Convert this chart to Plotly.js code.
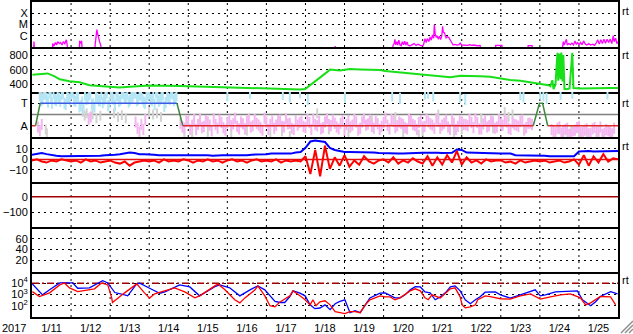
<!DOCTYPE html>
<html><head><meta charset="utf-8">
<script src="https://cdn.plot.ly/plotly-3.0.1.min.js"></script>
<style>html,body{margin:0;padding:0;background:#fff;}#chart{width:633px;height:334px;}</style>
</head><body><div id="chart"></div>
<script>
// ---------- axis labels ----------
const dayTickVals = [11.5,12.5,13.5,14.5,15.5,16.5,17.5,18.5,19.5,20.5,21.5,22.5,23.5,24.5,25.5];
const dayTickText = ['1/11','1/12','1/13','1/14','1/15','1/16','1/17','1/18','1/19','1/20','1/21','1/22','1/23','1/24','1/25'];
const dayGrid = [12,13,14,15,16,17,18,19,20,21,22,23,24,25];
const yearLabel = '2017';

// ---------- panel 1 : X-ray flux ----------
const xrsDay = [11.04,11.05,11.07, 11.52,11.53,11.56,11.60,11.63,11.66,11.70,11.73,11.77,11.80,11.84,11.88,11.90,11.92,
 12.21,12.22,12.25,12.27,12.29, 12.60,12.62,12.64,12.66,12.68,12.70,12.73,12.76,12.78,
 18.75,18.76,18.77,
 20.22,20.24,20.27,20.29,20.31,20.34,20.36,20.39,20.42,20.45,20.48,20.51,20.54,20.57,20.60,20.63,20.68,20.73,20.78,20.83,20.88,20.94,20.98,21.02,21.06,21.09,21.12,21.16,21.19,21.22,21.25,21.28,21.30,21.32,21.35,21.37,21.40,21.43,21.46,21.49,21.51,21.53,21.56,21.58,21.60,21.63,21.67,21.71,21.74,21.78,21.83,21.88,21.93,21.96,22.00,22.05,22.10,22.15,22.20,22.25,22.30,22.35,22.40,22.47,22.49,
 22.86,22.87,23.03,23.04, 23.69,23.70,23.80,23.81,
 24.56,24.58,24.60,24.62,24.65,24.68,24.70,24.74,24.78,24.82,24.86,24.90,24.93,24.97,25.00,25.04,25.08,25.12,25.16,25.20,25.25,25.30,25.35,25.40,25.45,25.48,25.52,25.56,25.60,25.64,25.68,25.72,25.76,25.80,25.84,25.88,25.90,25.94,25.97,26.00];
const xrsFlux = [3e-8,3e-7,3e-8, 3e-8,2e-7,1.2e-7,2.5e-7,1.5e-7,3e-7,2e-7,2.5e-7,1.5e-7,3e-7,2e-7,4.3e-7,1.5e-7,3e-8,
 3e-8,3.5e-7,2e-7,3.5e-7,3e-8, 3e-8,2e-7,6.5e-7,3.5e-6,1.5e-6,6.5e-7,3e-7,1.4e-7,3e-8,
 3e-8,1.2e-7,3e-8,
 3e-8,1.3e-7,2e-7,4.9e-7,1.6e-7,3e-7,1.5e-7,4e-7,1.5e-7,1.3e-7,3e-7,1.6e-7,3.2e-7,1.5e-7,2.8e-7,1.4e-7,1.3e-7,1.5e-7,2e-7,1.4e-7,1.8e-7,1.4e-7,1.3e-7,1.5e-7,5.5e-7,2.5e-7,5.5e-7,3e-7,8e-7,4e-7,1.2e-6,6e-7,1e-5,1.5e-6,7e-7,1e-6,5e-7,9e-7,4.5e-7,1e-6,7e-6,2e-6,1.8e-6,1e-6,6.5e-7,8e-7,7e-7,4e-7,2.2e-7,1.5e-7,1.7e-7,1.5e-7,1.6e-7,2.2e-7,1.5e-7,1.4e-7,1.5e-7,1.4e-7,1.6e-7,1.4e-7,1.5e-7,1.4e-7,1.3e-7,1.4e-7,3e-8,
 3e-8,1.4e-7,1.4e-7,3e-8, 3e-8,1.3e-7,1.3e-7,3e-8,
 3e-8,1.2e-7,3e-7,1.5e-7,2.5e-7,4.9e-7,1.5e-7,2e-7,1.6e-7,2.2e-7,1.5e-7,3.5e-7,1.8e-7,2.5e-7,1.5e-7,2.5e-7,1.6e-7,3.5e-7,1.8e-7,1.5e-7,2e-7,1.5e-7,1.8e-7,1.4e-7,2.5e-7,4.5e-7,1.8e-7,4.5e-7,2e-7,5e-7,2.2e-7,4.9e-7,2.5e-7,5e-7,2e-7,1e-6,3e-7,6e-7,2e-7,3e-7];
const xrsTickVals = [1e-6,1e-5,1e-4];
const xrsTickText = ['C','M','X'];

// ---------- panel 2 : solar wind speed ----------
const speedDay = [11.01,11.19,11.40,11.58,11.71,11.96,12.22,12.47,12.73,12.99,13.24,13.50,13.76,14.01,14.78,15.29,15.81,16.32,16.83,17.35,17.86,17.99,18.19,18.37,18.55,18.63,18.88,19.01,19.14,19.40,19.65,19.91,20.04,20.29,20.55,20.76,20.94,21.19,21.45,21.71,21.96,22.22,22.47,22.73,22.99,23.24,23.50,23.76,24.01,24.14,24.22,24.27,24.32,24.35,24.40,24.45,24.47,24.50,24.53,24.55,24.58,24.60,24.63,24.68,24.76,24.83,24.86,25.04,25.30,25.55,25.81,26.00];
const speedVal = [533,537,550,510,470,443,430,390,377,373,357,368,381,386,380,372,365,358,350,335,332,337,413,493,568,604,590,604,610,604,604,597,584,570,557,544,537,517,504,497,517,517,510,506,484,461,450,430,410,400,390,375,457,335,400,830,450,820,470,834,440,800,340,335,345,830,350,345,350,345,352,350];
const speedTicks = [400,600,800];

// ---------- panel 3 : IMF sector ----------
const towardPhiA = [330,300,345,280,320,350,290,310,340,270,325,300,355,285,315,250,230,300,335,260,240,310,290,275,320,250,345,300,330,285,350,310,340,295,325,355,300,335,280,315,345,290,260,320,300,340,275,310,350,290,330]; // every 0.07 d from 11.20
const towardPhiA2 = [290,340,310,355,270,300,330,285,350,260,310,345,295,320,240,280,335,305,350,265,325,290,340,300,355,275,315,250,330,295,345,310,280,320,350,290,335,305,270,340,300,325,355,285,315,245,330,300,345,310]; // every 0.07 d from 11.235
const towardExtraDay = [16.00,16.58,17.42,17.60,17.86,18.06,19.01,20.22,20.42,21.06,21.14,21.27,21.96,22.09,23.50,23.58,24.01,24.09,24.17,24.53,24.83,25.73];
const towardExtraPhi = [330,350,340,320,355,300,320,330,310,345,350,330,320,300,340,320,345,330,310,340,350,345];
const awayPhiA = [110,70,130,95,60,140,85,120,50,100,135,75,115,90,150,65,105,125,80,140,95,55,120,100,70,130,85,145,110,60,95,125,75,115,140,90,65,120,100,135,80,110,55,130,95,120,70,145,105,85,125,60,115,95,140,75,120,100,65,130,90,115,80,145,105,70,125,95,135,60,110,85,120,100,140,75,115,65,130,90,120,80,105,140,70,115,95,125,60,110,100]; // every 0.1 d from 14.8
const awayPhiA2 = [80,125,60,140,100,75,130,95,145,70,115,55,135,105,85,120,65,140,90,110,75,150,60,125,95,135,80,105,70,130,115,85,140,60,100,125,75,145,90,110,65,130,100,80,140,55,120,95,135,70,105,85,150,65,125,90,110,75,140,100,60,130,85,120,95,145,70,110,80,135,60,125,100,90,115,145,65,105,80,130,70,140,95,120,60,100,85,135,75,110]; // every 0.1 d from 14.85
const awayPhiB = [60,35,80,45,70,25,55,85,40,65,30,75,50,20,60,40,70]; // every 0.1 d from 24.3
const awayPhiB2 = [45,70,30,60,20,50,75,35,55,25,65,40,80,30,50,25]; // every 0.1 d from 24.35
const awayExtraDay = [11.15,11.20,11.25,12.45,12.50,13.65,13.70,13.75,13.80,13.85,13.90];
const awayExtraPhi = [80,50,100,140,160,120,70,40,100,60,140];
const grayDay = [11.20,11.25,11.30,11.35,11.38,12.30,12.35,12.40,12.50,12.55,12.65,12.75,13.10,13.20,13.30,13.40,14.00,14.10,14.20,14.30,14.90,15.10,15.50,16.10,16.50,17.10,17.40,17.60,18.30,18.60,19.10,19.60,19.70,20.30,20.50,20.90,21.00,21.40,21.80,22.00,22.50,22.80,23.10,23.20,23.30,23.60,24.50,24.60,24.70,24.80,25.00,25.20,25.50,25.80];
const grayPhi = [340,320,345,60,30,200,170,190,160,180,150,170,190,160,175,150,200,180,190,160,30,15,40,25,50,20,45,10,190,60,40,100,130,160,30,20,45,180,40,60,150,70,200,160,180,50,60,40,30,55,20,35,15,40];
const sectorAwayDay = [11.00,11.09,null,14.86,23.83,null,24.20,26.00];
const sectorAwayPhi = [90,90,null,90,90,null,90,90];
const sectorTowardDay = [11.21,14.71];
const sectorTowardPhi = [270,270];
const sectorTransDay = [11.09,11.21,null,14.71,14.86,null,23.83,23.99,24.07,24.20];
const sectorTransPhi = [90,270,null,270,90,null,90,270,270,90];
const sectorMidPhi = 180;
const sectorTicks = [90,270];
const sectorTickText = ['A','T'];

// ---------- panel 4 : IMF Bt / Bz (3-hour samples from 1/11 00:00) ----------
const btVal = [4.5,5.5,6,5,4,3.5,3,3, 3,3,3.5,3.5,3,3,3.5,4, 4,4.5,5,6,6.5,6,5,5, 5,4.5,4,4,4,4.5,4,4,
 4,4,4.5,4,4,3.5,4,4, 4,4,3.5,4,4,4.5,4.5,5, 5,5.5,5.5,6,6,5.5,6.5,7, 11,17,18,17,16.5,11,9,8,
 7,7,7,7,7,7,6.5,6, 5.7,5.7,5.5,5.5,5.7,6,6,6, 6.3,6.3,6.5,6.3,6,6.5,6.3,9.5, 9,6.5,6.3,6.3,6,6,5.7,5.7,
 5.7,5.7,5.5,4,4,4,4,4, 4,3.5,3,3,3,3,3,3, 7.5,8,8,7.5,7.5,8,8,8, 8];
const bzVal = [-1,0,-2,-3,-1,-2,0,-1, -2,-1,-3,0,-2,-1,-3,-2, -1,-3,-4,-2,-6,-3,-2,-1, -2,-1,-3,0,-2,-1,-2,0,
 -1,-3,-1,-2,0,-2,-1,-3, -1,0,-2,-1,-3,-1,0,-2, -1,-2,0,-3,-1,-2,-1,-2, 3,-14,9,-16,13,-9,2,-6,
 4,-7,-1,-5,3,-2,-4,-1, 0,-3,2,-4,-1,-3,1,-2, -4,3,-6,2,-5,4,-3,8, -5,2,-3,-1,-4,0,-2,-1,
 -1,-3,-2,-4,-1,-3,-2,-1, -2,-1,-3,-2,-1,-3,-2,0, -5,4,-6,3,-3,5,-2,1, 0];
const imfTicks = [-10,0,10];

// ---------- panel 5 : Dst (no data) ----------
const dstTicks = [-100,0];
// ---------- panel 6 : empty ----------
const p6Ticks = [20,40,60];

// ---------- panel 7 : electron flux ----------
const eBlueDay = [11.01,11.27,11.45,11.71,12.04,12.17,12.47,12.81,12.94,13.12,13.37,13.45,13.68,13.76,14.01,14.27,14.40,14.78,15.04,15.29,15.68,15.81,16.06,16.32,16.58,16.78,16.96,17.22,17.35,17.47,17.60,17.68,17.86,17.99,18.12,18.24,18.37,18.50,18.63,18.76,18.88,19.01,19.14,19.27,19.40,19.53,19.65,19.91,20.04,20.29,20.42,20.55,20.68,20.81,20.94,21.06,21.19,21.32,21.45,21.58,21.71,21.83,21.96,22.09,22.22,22.35,22.47,22.60,22.86,22.99,23.24,23.50,23.76,23.88,24.01,24.14,24.40,24.78,24.96,25.09,25.30,25.42,25.55,25.81,25.99];
const eBlueVal = [8700,930,2600,10700,10700,3600,3900,17000,10700,1500,930,760,8700,10000,3600,1300,1700,7100,4700,760,5000,7100,3900,760,2600,5800,2600,240,195,195,660,2100,1300,760,120,55,63,120,45,150,240,340,24,36,24,120,500,1300,1400,500,500,930,2600,5000,4700,1700,1400,340,620,1400,4700,5800,2100,340,150,340,620,1600,1700,930,480,930,1700,2600,760,930,1700,2100,2100,340,100,220,660,1800,1150];
const eRedDay = [11.01,11.19,11.45,11.71,11.83,11.96,12.17,12.60,12.78,12.94,13.04,13.06,13.37,13.68,13.88,14.01,14.14,14.40,14.65,14.91,15.17,15.29,15.68,15.76,15.94,16.19,16.32,16.45,16.71,16.78,16.96,17.09,17.22,17.35,17.60,17.68,17.86,17.99,18.12,18.19,18.27,18.37,18.50,18.63,18.76,18.88,19.01,19.14,19.27,19.40,19.53,19.65,19.91,20.04,20.17,20.29,20.42,20.68,20.81,20.94,21.06,21.14,21.24,21.45,21.58,21.71,21.83,21.96,22.01,22.09,22.22,22.35,22.41,22.60,22.73,22.99,23.24,23.50,23.76,24.01,24.27,24.53,24.78,25.04,25.17,25.30,25.55,25.81,25.94];
const eRedVal = [1800,660,1400,7100,10700,3900,1800,3200,10700,7100,500,195,1400,8700,1400,480,1150,2100,3900,1700,500,760,5800,8700,2600,340,180,500,2600,5800,760,100,81,220,760,2100,760,340,120,340,100,220,275,120,30,24,20,30,30,24,120,340,760,620,620,340,500,2100,3200,2100,500,340,930,500,1400,3200,3900,620,120,66,81,120,340,760,660,420,390,760,1150,390,620,930,1150,500,120,180,660,620,120];
const eThreshold = 1e4;
const eTicks = [1e2,1e3,1e4];
const eTickText = ['10<sup>2</sup>','10<sup>3</sup>','10<sup>4</sup>'];

// ---------- build ----------
function cadence(start, step, n){ const a=[]; for(let i=0;i<n;i++) a.push(+(start+step*i).toFixed(4)); return a; }
const imfDay = cadence(11, 0.125, btVal.length);
const towardDay = cadence(11.20, 0.07, towardPhiA.length).concat(cadence(11.235, 0.07, towardPhiA2.length), towardExtraDay);
const towardPhi = towardPhiA.concat(towardPhiA2, towardExtraPhi);
const awayDay = cadence(14.8, 0.1, awayPhiA.length).concat(cadence(14.85, 0.1, awayPhiA2.length),
  cadence(24.3, 0.1, awayPhiB.length), cadence(24.35, 0.1, awayPhiB2.length), awayExtraDay);
const awayPhi = awayPhiA.concat(awayPhiA2, awayPhiB, awayPhiB2, awayExtraPhi);
const X0 = 11, X1 = 26;

const FONT = 'Liberation Sans, Arial, Helvetica, sans-serif';
const DOT = '2px,4px';

const traces = [
  {x:xrsDay, y:xrsFlux, xaxis:'x', yaxis:'y', mode:'lines', line:{color:'#ff00ff', width:1.3}},
  {x:speedDay, y:speedVal, xaxis:'x2', yaxis:'y2', mode:'lines', line:{color:'#18e018', width:2}},
  {x:[X0,X1], y:[sectorMidPhi,sectorMidPhi], xaxis:'x3', yaxis:'y3', mode:'lines', line:{color:'#808080', width:1.5}},
  {x:grayDay, y:grayPhi, xaxis:'x3', yaxis:'y3', mode:'markers', marker:{symbol:'line-ns', size:7, line:{color:'#d2d2d2', width:2}}},
  {x:awayDay, y:awayPhi, xaxis:'x3', yaxis:'y3', mode:'markers', marker:{symbol:'line-ns', size:8, line:{color:'#f4b6f0', width:2}}},
  {x:towardDay, y:towardPhi, xaxis:'x3', yaxis:'y3', mode:'markers', marker:{symbol:'line-ns', size:8, line:{color:'#b4e6f6', width:2}}},
  {x:sectorAwayDay, y:sectorAwayPhi, xaxis:'x3', yaxis:'y3', mode:'lines', line:{color:'#e02828', width:1.5}},
  {x:sectorTowardDay, y:sectorTowardPhi, xaxis:'x3', yaxis:'y3', mode:'lines', line:{color:'#3c5ae6', width:1.5}},
  {x:sectorTransDay, y:sectorTransPhi, xaxis:'x3', yaxis:'y3', mode:'lines', line:{color:'#3c8a3c', width:1.5}},
  {x:[X0,X1], y:[0,0], xaxis:'x4', yaxis:'y4', mode:'lines', line:{color:'#e01010', width:1.5}},
  {x:imfDay, y:btVal, xaxis:'x4', yaxis:'y4', mode:'lines', line:{color:'#0000ff', width:2}},
  {x:imfDay, y:bzVal, xaxis:'x4', yaxis:'y4', mode:'lines', line:{color:'#ff0000', width:2}},
  {x:[X0,X1], y:[0,0], xaxis:'x5', yaxis:'y5', mode:'lines', line:{color:'#a00000', width:1.5}},
  {x:[], y:[], xaxis:'x6', yaxis:'y6', mode:'lines'},
  {x:[X0,X1], y:[eThreshold,eThreshold], xaxis:'x7', yaxis:'y7', mode:'lines', line:{color:'#a00000', width:1.5, dash:'7px,3px,2px,3px'}},
  {x:eBlueDay, y:eBlueVal, xaxis:'x7', yaxis:'y7', mode:'lines', line:{color:'#0000ff', width:1.3}},
  {x:eRedDay, y:eRedVal, xaxis:'x7', yaxis:'y7', mode:'lines', line:{color:'#ff0000', width:1.3}}
];
traces.forEach(t => { t.showlegend = false; t.hoverinfo = 'skip'; });

const layout = {
  width:633, height:334, margin:{l:32, r:15, t:2, b:17},
  paper_bgcolor:'#fff', plot_bgcolor:'#fff', showlegend:false,
  font:{family:FONT, size:11, color:'#000'},
  shapes:[], annotations:[]
};
const ySpecs = [
  {type:'log', range:[-7,-3], tickvals:xrsTickVals, ticktext:xrsTickText},
  {range:[297,910], tickvals:speedTicks},
  {range:[0,360], tickvals:sectorTicks, ticktext:sectorTickText},
  {range:[-21.5,21.3], tickvals:imfTicks},
  {range:[-194,94], tickvals:dstTicks},
  {range:[-2.5,82], tickvals:p6Ticks},
  {type:'log', range:[1,5], tickvals:eTicks, ticktext:eTickText}
];
for (let k=0;k<7;k++){
  const s = k===0 ? '' : String(k+1);
  layout['xaxis'+s] = {range:[X0,X1], anchor:'y'+s, showline:true, mirror:(k===0), linecolor:'#000', linewidth:2,
    showgrid:false, zeroline:false, ticks:'', showticklabels:(k===6), fixedrange:true,
    tickmode:'array', tickvals:dayTickVals, ticktext:dayTickText, tickfont:{family:FONT,size:11,color:'#000'}};
  layout['yaxis'+s] = Object.assign({domain:[1-(k+1)/7, 1-k/7], anchor:'x'+s, showline:true, mirror:true,
    linecolor:'#000', linewidth:2, ticks:'', showgrid:true, gridcolor:'#000', gridwidth:1, griddash:DOT,
    zeroline:false, tickmode:'array', fixedrange:true, tickfont:{family:FONT,size:11,color:'#000'}}, ySpecs[k]);
}
dayGrid.forEach(d => layout.shapes.push({type:'line', xref:'x', yref:'paper', x0:d, x1:d, y0:0, y1:1, layer:'below',
  line:{color:'#000', width:1, dash:DOT}}));
// window resize grip (decoration)
[[1.0051,-0.0508,1.0256,-0.0127],[1.0119,-0.0508,1.0256,-0.0254],[1.0188,-0.0508,1.0256,-0.0381]].forEach(c =>
  layout.shapes.push({type:'line', xref:'paper', yref:'paper', x0:c[0], y0:c[1], x1:c[2], y1:c[3], line:{color:'#909090', width:1.5}}));
layout.annotations.push({text:yearLabel, xref:'paper', yref:'paper', x:0, y:0, xanchor:'right', yanchor:'top', xshift:-4, yshift:-3, showarrow:false, font:{family:FONT,size:11,color:'#000'}});
[0.971,0.832,0.679,0.543,0.117].forEach(y => layout.annotations.push({text:'rt', xref:'paper', yref:'paper', x:1, y:y, xanchor:'left', yanchor:'middle', xshift:2, showarrow:false, font:{family:FONT,size:11,color:'#000'}}));

Plotly.newPlot('chart', traces, layout, {displayModeBar:false, staticPlot:true});
</script></body></html>
